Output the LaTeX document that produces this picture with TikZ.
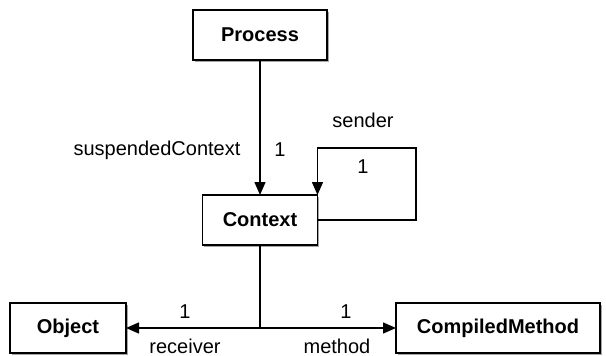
\documentclass[tikz,border=0pt]{standalone}
\usepackage{fontspec}
\setmainfont{Liberation Sans}
\usetikzlibrary{arrows.meta,shadows}
\begin{document}
\begin{tikzpicture}[x=1pt,y=-1pt,
  font=\fontsize{20}{24}\selectfont,
  classbox/.style={draw=black, line width=1.5pt, fill=white, minimum height=50pt,
    inner sep=0pt, outer sep=0pt, font=\fontsize{20}{24}\selectfont\bfseries,
    drop shadow={shadow xshift=1.5pt, shadow yshift=-2pt, opacity=0.35, fill=black}},
  link/.style={draw=black, line width=1.5pt},
  arr/.style={link, -{Triangle[length=13pt,width=11pt]}},
  lbl/.style={inner sep=0pt}]
\useasboundingbox (0,0) rectangle (606,356);

% classes
\node[classbox, minimum width=134pt] (proc) at (260,35) {Process};
\node[classbox, minimum width=115pt] (ctx) at (260,220) {Context};
\node[classbox, minimum width=116pt] (obj) at (68,328) {Object};
\node[classbox, minimum width=204pt] (cm) at (498,328) {CompiledMethod};

% Process -> Context
\draw[arr] (proc) -- (ctx);
\node[lbl] (lsusp) at (157,150) {suspendedContext};
\node[lbl] (lsuspn) at (280,150) {1};

% sender self-association
\coordinate (loopTR) at (416,148);
\draw[arr] (ctx.east) -| (loopTR) -| (ctx.north east);
\node[lbl] (lsender) at (363,120) {sender};
\node[lbl] (lsendn) at (363,167) {1};

% receiver / method
\coordinate (junc) at (ctx.south |- obj.east);
\draw[link] (ctx.south) -- (junc);
\draw[arr] (junc) -- (obj.east);
\draw[arr] (junc) -- (cm.west);
\node[lbl] (lrecvn) at (185,312) {1};
\node[lbl] (lrecv) at (185,346) {receiver};
\node[lbl] (lmethn) at (346,312) {1};
\node[lbl] (lmeth) at (337,346) {method};
\end{tikzpicture}
\end{document}
